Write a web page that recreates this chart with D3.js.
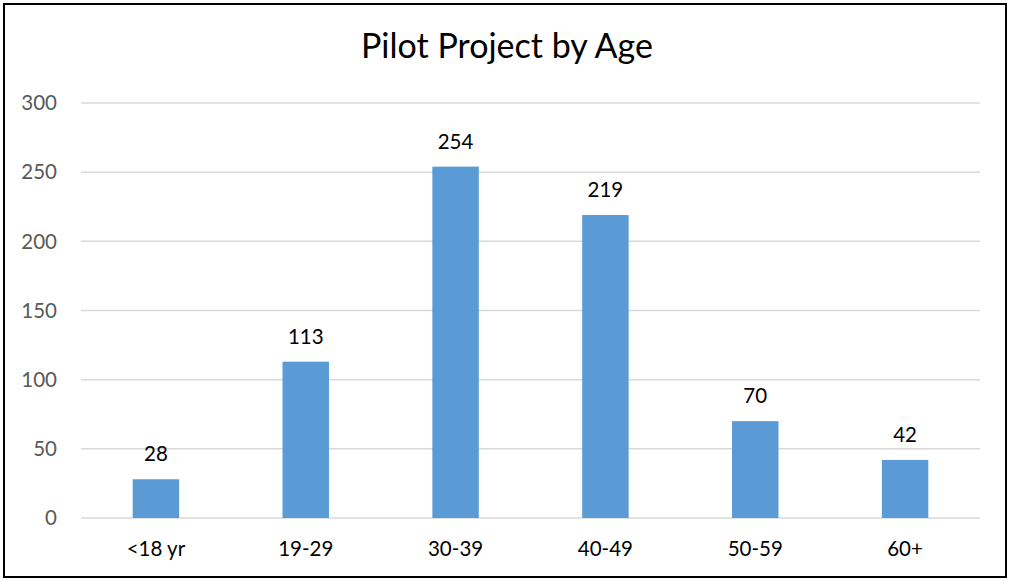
<!DOCTYPE html>
<html><head><meta charset="utf-8">
<script src="https://cdn.jsdelivr.net/npm/d3@7/dist/d3.min.js"></script>
<style>body{margin:0;background:#fff;} svg{display:block;}</style>
</head><body>
<svg id="c" width="1010" height="580"></svg>
<script>
const categories = ["<18 yr","19-29","30-39","40-49","50-59","60+"];
const values = [28,113,254,219,70,42];
const yTicks = [0,50,100,150,200,250,300];
const title = "Pilot Project by Age";

const svg = d3.select("#c");
const font = "Lato, 'Open Sans', sans-serif";
svg.append("rect").attr("x",4).attr("y",4).attr("width",1002).attr("height",573)
  .attr("fill","#fff").attr("stroke","#000").attr("stroke-width",2);

const m = {l:81};
const x = d3.scaleBand().domain(categories).range([m.l, 980]).paddingInner(0.69).paddingOuter(0.345);
const y = d3.scaleLinear().domain([0,300]).range([518,103]);

svg.append("g").selectAll("line").data(yTicks).join("line")
  .attr("x1",m.l).attr("x2",980).attr("y1",d=>y(d)).attr("y2",d=>y(d))
  .attr("stroke","#d9d9d9").attr("stroke-width",1.5);

svg.append("g").selectAll("text").data(yTicks).join("text")
  .attr("x",57).attr("y",d=>y(d)).attr("dy","0.35em").attr("text-anchor","end")
  .attr("font-family",font).attr("font-size",20.5).attr("fill","#595959").text(d=>d);

svg.append("g").selectAll("rect").data(values).join("rect")
  .attr("x",(d,i)=>x(categories[i])).attr("width",x.bandwidth())
  .attr("y",d=>y(d)).attr("height",d=>y(0)-y(d)).attr("fill","#5b9bd5");

svg.append("g").selectAll("text").data(values).join("text")
  .attr("x",(d,i)=>x(categories[i])+x.bandwidth()/2).attr("y",d=>y(d)-18)
  .attr("text-anchor","middle").attr("font-family",font).attr("font-size",20.5).attr("fill","#000").text(d=>d);

svg.append("g").selectAll("text").data(categories).join("text")
  .attr("x",d=>x(d)+x.bandwidth()/2).attr("y",556)
  .attr("text-anchor","middle").attr("font-family",font).attr("font-size",20.5).attr("fill","#000").text(d=>d);

svg.append("text").attr("x",507).attr("y",58).attr("text-anchor","middle")
  .attr("font-family",font).attr("font-size",34).attr("fill","#000").text(title);
</script>
</body></html>
